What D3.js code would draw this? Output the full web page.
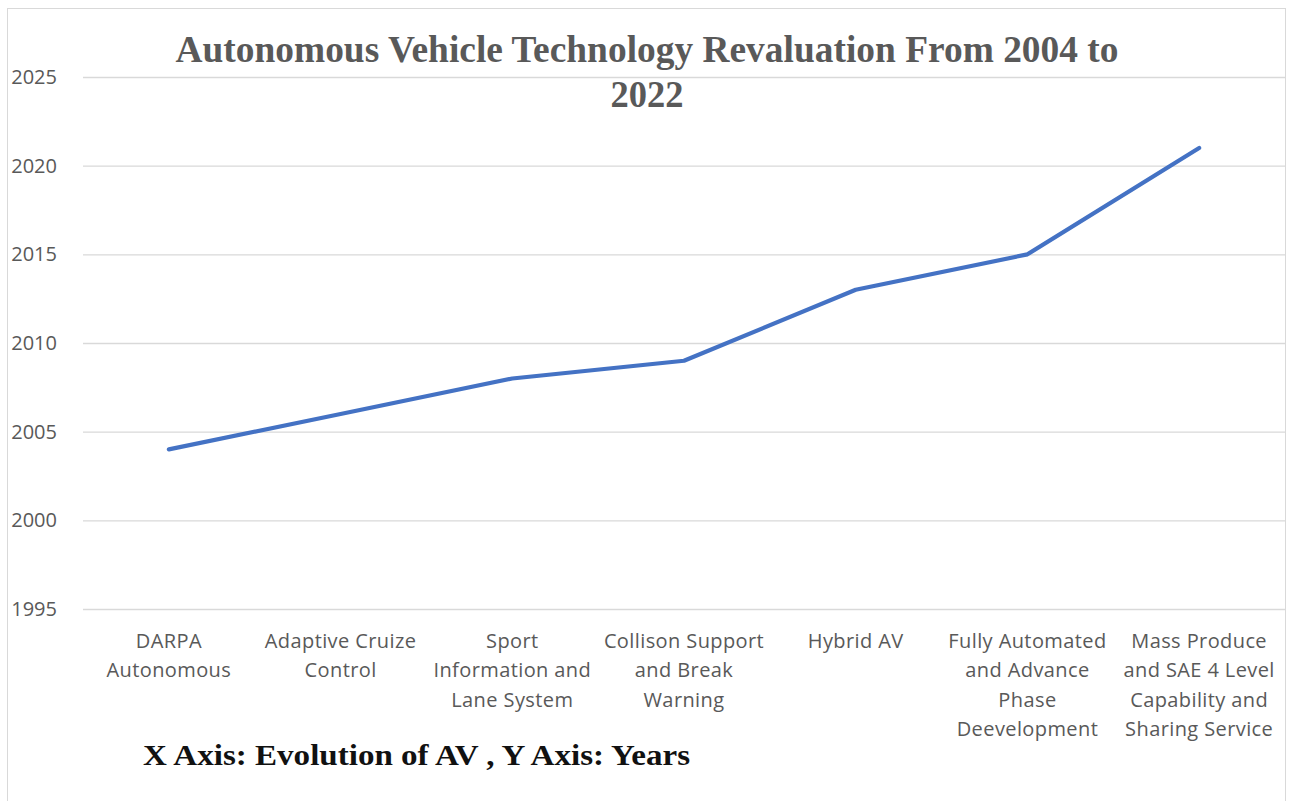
<!DOCTYPE html>
<html>
<head>
<meta charset="utf-8">
<script src="https://cdn.jsdelivr.net/npm/d3@7"></script>
<style>
  html, body { margin: 0; padding: 0; background: #fff; }
  svg { display: block; }
</style>
</head>
<body>
<svg id="chart" width="1290" height="801"></svg>
<script>
// ---- data ----
const categories = [
  "DARPA Autonomous",
  "Adaptive Cruize Control",
  "Sport Information and Lane System",
  "Collison Support and Break Warning",
  "Hybrid AV",
  "Fully Automated and Advance Phase Deevelopment",
  "Mass Produce and SAE 4 Level Capability and Sharing Service"
];
const categoryLines = [
  ["DARPA", "Autonomous"],
  ["Adaptive Cruize", "Control"],
  ["Sport", "Information and", "Lane System"],
  ["Collison Support", "and Break", "Warning"],
  ["Hybrid AV"],
  ["Fully Automated", "and Advance", "Phase", "Deevelopment"],
  ["Mass Produce", "and SAE 4 Level", "Capability and", "Sharing Service"]
];
const years = [2004, 2006, 2008, 2009, 2013, 2015, 2021];
const yTicks = [1995, 2000, 2005, 2010, 2015, 2020, 2025];
const titleLines = ["Autonomous Vehicle Technology Revaluation From 2004 to", "2022"];
const footnote = "X Axis: Evolution of AV , Y Axis: Years";

// ---- layout ----
const svg = d3.select("#chart");
const plot = { left: 83, right: 1285, top: 77, bottom: 609 };

// border
svg.append("rect")
  .attr("x", 7.5).attr("y", 8.5)
  .attr("width", 1278).attr("height", 800)
  .attr("fill", "#fff").attr("stroke", "#d9d9d9").attr("stroke-width", 1);

const x = d3.scaleBand().domain(categories).range([plot.left, plot.right]).padding(0);
const y = d3.scaleLinear().domain([1995, 2025]).range([plot.bottom, plot.top]);

// gridlines + y labels via axis
const yAxis = d3.axisLeft(y).tickValues(yTicks).tickFormat(d3.format("d"))
  .tickSize(-(plot.right - plot.left)).tickPadding(26);
const gy = svg.append("g").attr("transform", `translate(${plot.left},0)`).call(yAxis);
gy.select(".domain").remove();
gy.selectAll(".tick line").attr("stroke", "#d9d9d9").attr("stroke-width", 1.3);
gy.selectAll(".tick text")
  .attr("fill", "#595959")
  .style("font-family", "'Open Sans', sans-serif")
  .style("font-size", "20px");

// x labels
const xAxis = d3.axisBottom(x).tickSize(0).tickFormat("");
const gx = svg.append("g").attr("transform", `translate(0,${plot.bottom})`).call(xAxis);
gx.select(".domain").remove();
gx.selectAll(".tick").each(function(d, i) {
  const t = d3.select(this).append("text")
    .attr("fill", "#595959")
    .attr("text-anchor", "middle")
    .style("font-family", "'Open Sans', sans-serif")
    .style("font-size", "20px")
    .style("letter-spacing", "0.4px");
  categoryLines[i].forEach((ln, j) => {
    t.append("tspan").attr("x", 0).attr("y", 39 + j * 29.3).text(ln);
  });
});

// line
const line = d3.line()
  .x((d, i) => x(categories[i]) + x.bandwidth() / 2)
  .y(d => y(d));
svg.append("path")
  .datum(years)
  .attr("d", line)
  .attr("fill", "none")
  .attr("stroke", "#4472c4")
  .attr("stroke-width", 4.2)
  .attr("stroke-linejoin", "round")
  .attr("stroke-linecap", "round");

// title
svg.append("text")
  .attr("x", 647).attr("y", 62)
  .attr("text-anchor", "middle")
  .attr("fill", "#595959")
  .style("font-family", "'Liberation Serif', 'Times New Roman', serif")
  .style("font-weight", "bold")
  .style("font-size", "37px")
  .attr("textLength", 943).attr("lengthAdjust", "spacingAndGlyphs")
  .text(titleLines[0]);
svg.append("text")
  .attr("x", 647).attr("y", 107)
  .attr("text-anchor", "middle")
  .attr("fill", "#595959")
  .style("font-family", "'Liberation Serif', 'Times New Roman', serif")
  .style("font-weight", "bold")
  .style("font-size", "37px")
  .attr("textLength", 73).attr("lengthAdjust", "spacingAndGlyphs")
  .text(titleLines[1]);

// footnote
svg.append("text")
  .attr("x", 143).attr("y", 765)
  .attr("fill", "#111")
  .style("font-family", "'Liberation Serif', 'Times New Roman', serif")
  .style("font-weight", "bold")
  .style("font-size", "30px")
  .attr("textLength", 547).attr("lengthAdjust", "spacingAndGlyphs")
  .text(footnote);
</script>
</body>
</html>
